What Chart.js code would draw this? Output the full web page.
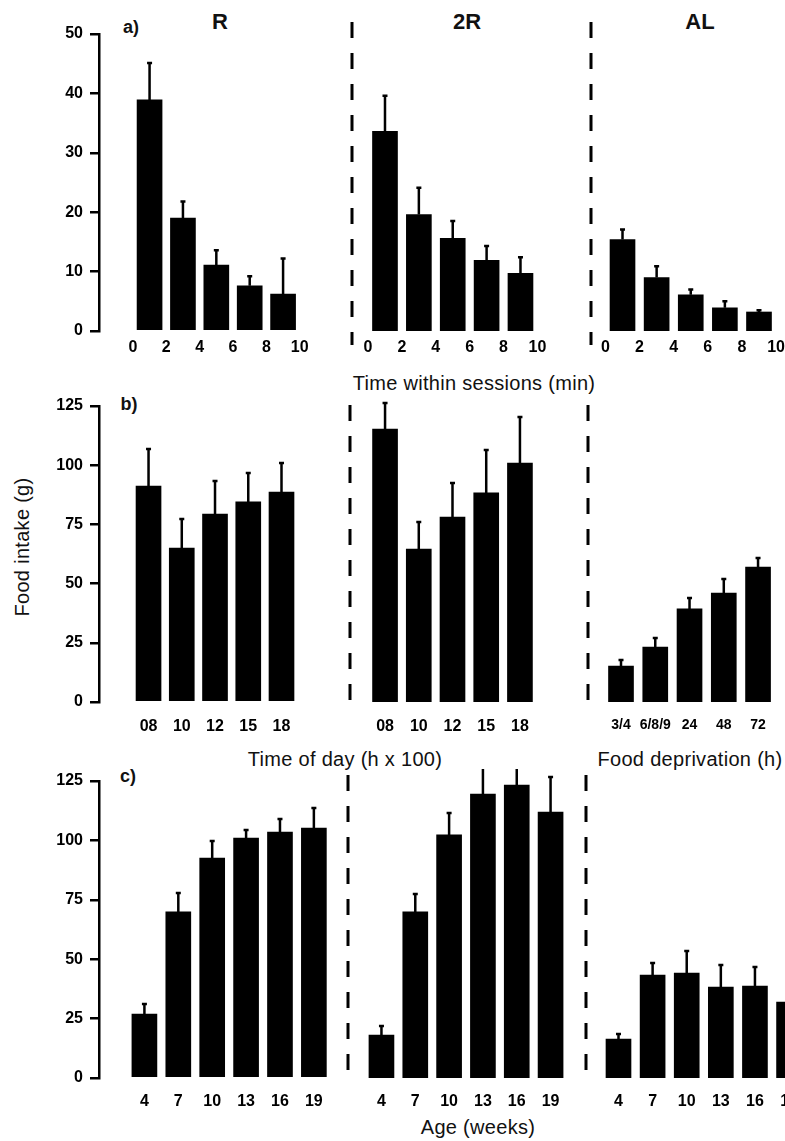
<!DOCTYPE html>
<html>
<head>
<meta charset="utf-8">
<script src="https://cdn.jsdelivr.net/npm/chart.js@4.4.1/dist/chart.umd.min.js"></script>
<style>
  body { margin: 0; width: 785px; height: 1141px; overflow: hidden; background: #fff; position: relative;
         font-family: "Liberation Sans", Arial, Helvetica, sans-serif; color: #111; }
  .box { position: absolute; overflow: visible; }
  .txt { position: absolute; white-space: nowrap; line-height: 1; transform: translate(-50%, -50%); }
  .b { font-weight: bold; }
  .ax { font-size: 20px; letter-spacing: 0.3px; }
</style>
</head>
<body>

<div class="txt b" style="left:131px;top:27px;font-size:18px">a)</div>
<div class="txt b" style="left:220px;top:22px;font-size:22px">R</div>
<div class="txt b" style="left:467px;top:22px;font-size:22px">2R</div>
<div class="txt b" style="left:700px;top:22px;font-size:22px">AL</div>
<div class="txt b" style="left:129px;top:404px;font-size:18px">b)</div>
<div class="txt b" style="left:128px;top:776px;font-size:18px">c)</div>
<div class="txt ax" style="left:474px;top:383px">Time within sessions (min)</div>
<div class="txt ax" style="left:345px;top:759px">Time of day (h x 100)</div>
<div class="txt ax" style="left:690px;top:759px">Food deprivation (h)</div>
<div class="txt ax" style="left:478px;top:1127px">Age (weeks)</div>
<div class="txt ax" style="left:22px;top:547px;transform:translate(-50%,-50%) rotate(-90deg)">Food intake (g)</div>

<script>
// ---- data ----
// a) intake within session, 2-min bins
const sessionTicks = [0, 2, 4, 6, 8, 10];
const sessionBins = [1, 3, 5, 7, 9];            // bin midpoints
const sessionR     = [38.9, 19.0, 11.1, 7.6, 6.2];
const sessionRErr  = [6.2, 2.8, 2.5, 1.6, 6.0];
const session2R    = [33.6, 19.6, 15.6, 11.9, 9.7];
const session2RErr = [6.0, 4.5, 2.9, 2.4, 2.7];
const sessionAL    = [15.4, 9.0, 6.1, 3.9, 3.2];
const sessionALErr = [1.7, 1.9, 0.9, 1.1, 0.3];

// b) time of day / food deprivation
const timeOfDay     = ['08', '10', '12', '15', '18'];
const dayR          = [91.2, 65.0, 79.4, 84.5, 88.7];
const dayRErr       = [15.6, 12.3, 13.9, 12.2, 12.2];
const day2R         = [115.3, 64.6, 78.1, 88.3, 100.9];
const day2RErr      = [11.0, 11.4, 14.4, 18.1, 19.5];
const deprivation   = ['3/4', '6/8/9', '24', '48', '72'];
const deprivAL      = [15.2, 23.2, 39.3, 46.0, 57.0];
const deprivALErr   = [2.5, 3.8, 4.6, 5.9, 3.8];

// c) age
const ageWeeks = ['4', '7', '10', '13', '16', '19'];
const ageR     = [26.9, 69.9, 92.6, 101.0, 103.5, 105.2];
const ageRErr  = [4.2, 8.0, 7.1, 3.4, 5.5, 8.4];
const age2R    = [18.1, 69.9, 102.3, 119.5, 123.3, 111.9];
const age2RErr = [3.8, 7.5, 9.2, 12.2, 11.0, 14.8];
const ageAL    = [16.4, 43.3, 44.2, 38.3, 38.7, 32.0];
const ageALErr = [2.1, 5.1, 9.3, 9.3, 8.0, 6.0];

const FONT = "'Liberation Sans', Arial, sans-serif";

// error bars drawn on top of each bar from the y scale
const errorBars = {
  id: 'errorBars',
  afterDatasetsDraw(chart, args, opts) {
    if (!opts.values) return;
    const ctx = chart.ctx;
    const y = chart.scales.y;
    const ds = chart.data.datasets[0].data;
    ctx.save();
    ctx.strokeStyle = '#000';
    ctx.lineWidth = 2.5;
    chart.getDatasetMeta(0).data.forEach((bar, i) => {
      const top = y.getPixelForValue(ds[i].y + opts.values[i]);
      ctx.beginPath();
      ctx.moveTo(bar.x, bar.y);
      ctx.lineTo(bar.x, top);
      ctx.moveTo(bar.x - 2.5, top);
      ctx.lineTo(bar.x + 2.5, top);
      ctx.stroke();
    });
    ctx.restore();
  }
};

// dashed separator at the left edge of the 2nd / 3rd panel
const divider = {
  id: 'divider',
  beforeDraw(chart, args, opts) {
    if (!opts.show) return;
    const ctx = chart.ctx;
    ctx.save();
    ctx.strokeStyle = '#000';
    ctx.lineWidth = 3;
    ctx.setLineDash([16, 15]);
    ctx.beginPath();
    ctx.moveTo(2, opts.from);
    ctx.lineTo(2, opts.to);
    ctx.stroke();
    ctx.restore();
  }
};

function panel(p) {
  const box = document.createElement('div');
  box.className = 'box';
  box.style.left = p.left + 'px';
  box.style.top = p.top + 'px';
  box.style.width = p.w + 'px';
  box.style.height = p.h + 'px';
  const cv = document.createElement('canvas');
  cv.width = p.w;
  cv.height = p.h;
  cv.style.width = p.w + 'px';
  cv.style.height = p.h + 'px';
  box.appendChild(cv);
  document.body.appendChild(box);

  new Chart(cv.getContext('2d'), {
    type: 'bar',
    data: {
      datasets: [{
        data: p.x.map((x, i) => ({ x: x, y: p.y[i] })),
        backgroundColor: '#000',
        borderWidth: 0,
        barThickness: 25
      }]
    },
    options: {
      responsive: false,
      animation: false,
      devicePixelRatio: 1,
      layout: { padding: { top: 12, left: 4, right: 4, bottom: 0 } },
      plugins: {
        legend: { display: false },
        tooltip: { enabled: false },
        errorBars: { values: p.err },
        divider: p.divider || { show: false }
      },
      scales: {
        x: {
          type: 'linear',
          offset: false,
          min: p.xMin,
          max: p.xMax,
          grid: { display: false, drawTicks: false, offset: false },
          border: { display: false },
          afterBuildTicks: s => { s.ticks = p.ticks.map(v => ({ value: v })); },
          afterFit: s => { s.paddingLeft = 0; s.paddingRight = 0; s.height = p.xPad + 20; },
          ticks: {
            autoSkip: false,
            maxRotation: 0,
            padding: p.xPad,
            color: '#000',
            font: { family: FONT, size: p.xFont || 16, weight: 'bold' },
            callback: (v, i) => p.labels[i]
          }
        },
        y: {
          display: !!p.yAxis,
          min: 0,
          max: p.yMax,
          afterFit: s => {
            s.paddingTop = 0;
            s.paddingBottom = 0;
            if (p.yAxis) s.width = 95;
          },
          grid: { display: true, drawOnChartArea: false, drawTicks: true, tickLength: 9, color: '#000', lineWidth: 2.5 },
          border: { display: true, color: '#000', width: 2.5 },
          ticks: {
            stepSize: p.yStep,
            padding: 7,
            color: '#000',
            font: { family: FONT, size: 16, weight: 'bold' }
          }
        }
      }
    },
    plugins: [errorBars, divider]
  });
}

// row a
const rowA = { top: 22, h: 336, yMax: 50, yStep: 10, xPad: 7, x: sessionBins, ticks: sessionTicks, labels: sessionTicks };
panel({ ...rowA, left: 0,   w: 350, xMin: -2.03, xMax: 12.77, y: sessionR,  err: sessionRErr,  yAxis: true });
panel({ ...rowA, left: 350, w: 239, xMin: -0.83, xMax: 12.81, y: session2R, err: session2RErr, divider: { show: true, from: 0, to: 323 } });
panel({ ...rowA, left: 589, w: 196, xMin: -0.73, xMax: 10.29, y: sessionAL, err: sessionALErr, divider: { show: true, from: 0, to: 323 } });

// row b
const five = [1, 2, 3, 4, 5];
const rowB = { top: 394, h: 343, yMax: 125, yStep: 25, xPad: 15, x: five, ticks: five };
panel({ ...rowB, left: 0,   w: 348, xMin: -0.49, xMax: 6.88, y: dayR,     err: dayRErr,     labels: timeOfDay, yAxis: true });
panel({ ...rowB, left: 348, w: 238, xMin: 0.02,  xMax: 6.84, y: day2R,    err: day2RErr,    labels: timeOfDay, divider: { show: true, from: 11, to: 321 } });
panel({ ...rowB, left: 586, w: 199, xMin: 0.095, xMax: 5.67, y: deprivAL, err: deprivALErr, labels: deprivation, xFont: 14, divider: { show: true, from: 11, to: 321 } });

// row c
const six = [1, 2, 3, 4, 5, 6];
const rowC = { top: 769, h: 343, yMax: 125, yStep: 25, xPad: 14, x: six, ticks: six, labels: ageWeeks };
panel({ ...rowC, left: 0,   w: 346, xMin: -0.34, xMax: 6.83, y: ageR,  err: ageRErr, yAxis: true });
panel({ ...rowC, left: 346, w: 238, xMin: 0.07,  xMax: 6.87, y: age2R, err: age2RErr, divider: { show: true, from: 6, to: 308 } });
panel({ ...rowC, left: 584, w: 250, xMin: 0.106, xMax: 7.2,  y: ageAL, err: ageALErr, divider: { show: true, from: 6, to: 308 } });
</script>
</body>
</html>
